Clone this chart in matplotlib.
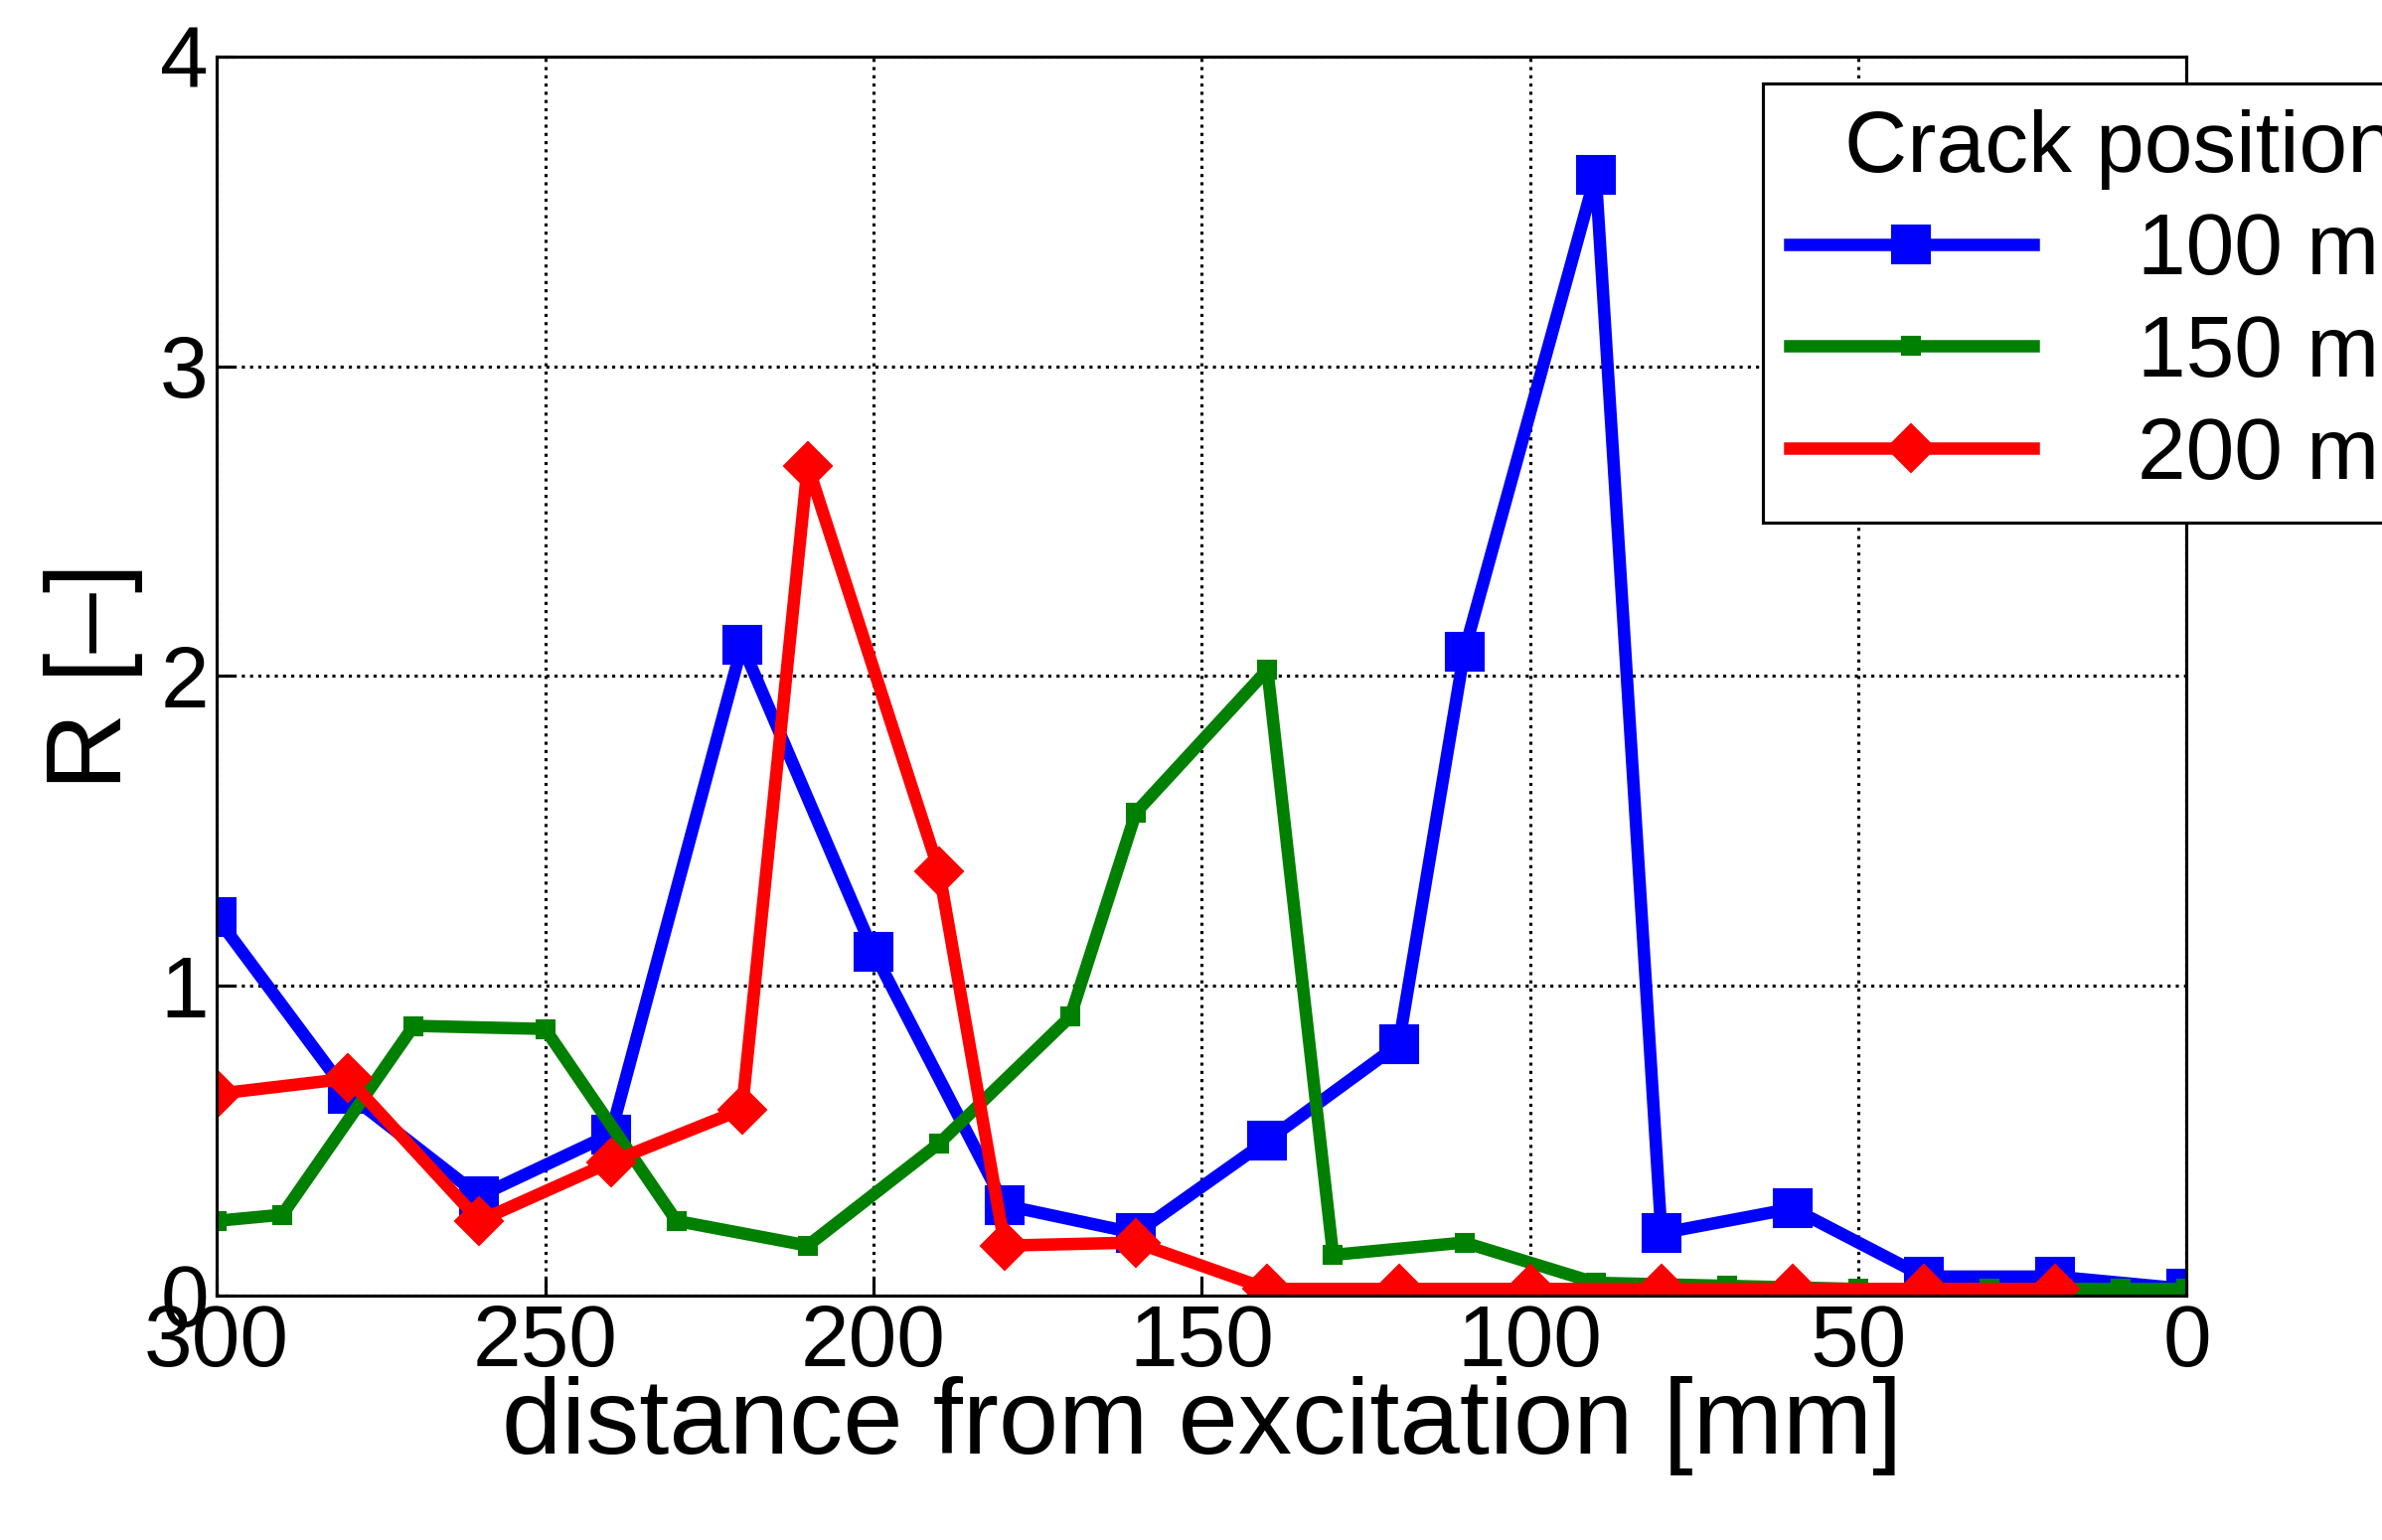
import matplotlib.pyplot as plt

plt.rcParams['font.family'] = ['Liberation Sans', 'DejaVu Sans']

# data
x_100 = [300, 280, 260, 240, 220, 200, 180, 160, 140, 120, 110, 90, 80, 60, 40, 20, 0]
r_100 = [1.22, 0.65, 0.32, 0.52, 2.10, 1.11, 0.29, 0.20, 0.50, 0.81, 2.08, 3.62, 0.20, 0.28, 0.06, 0.06, 0.02]

x_150 = [300, 290, 270, 250, 230, 210, 190, 170, 160, 140, 130, 110, 90, 70, 50, 30, 10, 0]
r_150 = [0.24, 0.26, 0.87, 0.86, 0.24, 0.16, 0.49, 0.90, 1.56, 2.02, 0.13, 0.17, 0.04, 0.03, 0.02, 0.02, 0.02, 0.02]

x_200 = [300, 280, 260, 240, 220, 210, 190, 180, 160, 140, 120, 100, 80, 60, 40, 20]
r_200 = [0.65, 0.70, 0.24, 0.43, 0.60, 2.68, 1.37, 0.16, 0.17, 0.02, 0.02, 0.02, 0.02, 0.02, 0.02, 0.02]

fig = plt.figure(figsize=(2397 / 150, 1550 / 150), dpi=150)
ax = fig.add_axes([0.091, 0.159, 0.827, 0.804])

ax.plot(x_100, r_100, color='#0000ff', lw=6, marker='s', ms=18, label='100 mm')
ax.plot(x_150, r_150, color='#008000', lw=6, marker='s', ms=9, label='150 mm')
ax.plot(x_200, r_200, color='#ff0000', lw=6, marker='D', ms=16, label='200 mm')

ax.set_xlim(300, 0)
ax.set_ylim(0, 4)
ax.set_xticks(range(300, -1, -50))
ax.set_yticks(range(0, 5))
ax.grid(True, color='black', linestyle=':', linewidth=1.5)
ax.tick_params(labelsize=42, direction='in', length=8, width=1.5, pad=4)
for s in ax.spines.values():
    s.set_linewidth(1.5)
ax.set_xlabel('distance from excitation [mm]', fontsize=52, labelpad=-4)
ax.set_ylabel('R [\u2013]', fontsize=52, labelpad=8)

leg = ax.legend(title='Crack position', loc='upper left', bbox_to_anchor=(0.722, 0.974),
                bbox_transform=fig.transFigure, fontsize=42, title_fontsize=42,
                fancybox=False, edgecolor='black', framealpha=1, handlelength=2.8,
                markerfirst=True, borderpad=0.3, labelspacing=0.25, handletextpad=1.2)
leg.get_frame().set_linewidth(1.5)

fig.savefig('out.png', dpi=150)
